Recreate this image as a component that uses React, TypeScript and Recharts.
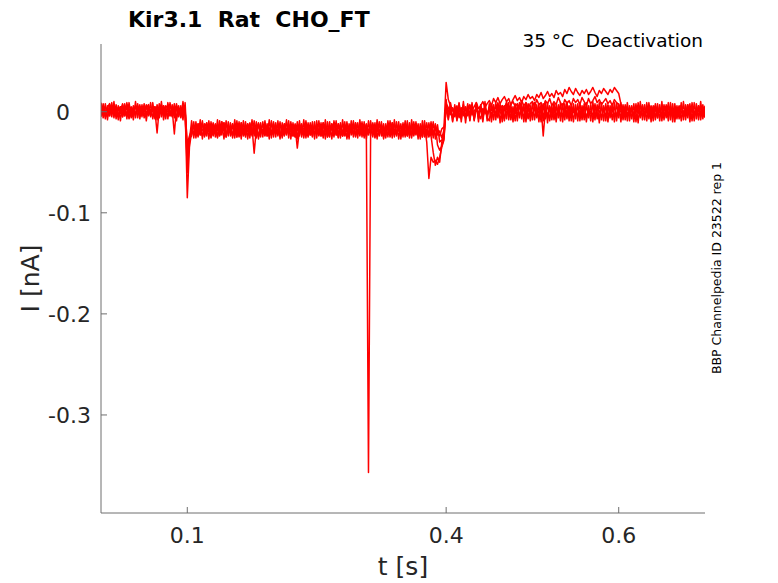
import { LineChart, Line, XAxis, YAxis } from 'recharts';

// sampling of the recorded sweeps
const SAMPLE_STEP = 0.0025; // s

const xTicks = [0.1, 0.4, 0.6];
const yTicks = [-0.3, -0.2, -0.1, 0];

// current sweeps in pA, one value per sample (0 .. 0.7 s)
const sweepA = [
  3, -2, 5, 0, -4, 6, 2, -3, 4, 1, -5, 3, 7, -1, 2, -4, 5, 0, -2, 4,
  1, 6, -3, 2, 5, -1, -4, 3, 7, 0, -2, 4, 1, -5, 2, 6, -1, 3, -3, 4,
  -85, -35, -20, -14, -22, -12, -19, -24, -15, -11, -20, -16, -23, -13, -18, -21, -10, -17, -25, -14,
  -19, -12, -22, -16, -24, -11, -18, -20, -13, -23, -15, -41, -17, -12, -21, -19, -14, -24, -16, -20,
  -12, -22, -17, -25, -14, -19, -11, -21, -16, -23, -13, -18, -20, -15, -24, -12, -19, -22, -16, -21,
  -14, -23, -18, -11, -20, -16, -25, -13, -19, -21, -12, -17, -24, -15, -20, -18, -13, -22, -16, -19,
  -23, -14, -20, -17, -357, -18, -12, -21, -16, -24, -13, -19, -22, -15, -20, -11, -18, -23, -16, -21,
  -13, -19, -24, -15, -20, -17, -12, -22, -18, -25, -14, -19, -21, -16, -23, -13, -20, -24, -17, -15,
  29, 12, 6, 2, -3, 4, -6, 1, -2, 5, -4, 0, 3, -7, 2, -1, 4, -5, 1, -3,
  2, -6, 4, -1, -4, 3, 0, -7, 5, -2, 1, -5, 3, -3, 6, -1, -4, 2, -6, 1,
  -2, 4, -5, 1, 3, -3, 0, -6, 5, -1, 2, -4, 4, -2, -5, 3, 0, -3, 6, -1,
  3, -4, 1, -2, 5, -6, 2, 0, -3, 4, -1, -5, 3, 1, -4, 6, -2, 0, 4, -3,
  1, -5, 3, -1, 5, -3, 2, -6, 4, 0, -2, 6, -4, 1, 3, -2, 5, -5, 2, -1,
  4, -3, 0, 6, -2, 3, -5, 2, 5, -1, 1, -4, 7, -2, 3, 0, -3, 6, -1, 2,
  3,
];

const sweepB = [
  -3, 4, 1, -5, 6, -1, 3, -4, 2, 5, -2, 0, 4, -6, 1, 3, -3, 6, 0, -2,
  5, -1, 2, -4, 4, 1, -21, 3, -2, 6, 0, -3, 5, 2, -4, 3, 1, -5, 4, 2,
  -60, -30, -16, -23, -13, -20, -17, -11, -24, -18, -14, -21, -12, -19, -25, -15, -20, -13, -22, -17,
  -21, -14, -18, -25, -12, -20, -16, -23, -19, -11, -22, -17, -14, -24, -18, -13, -21, -15, -20, -23,
  -16, -19, -13, -21, -24, -15, -20, -17, -12, -22, -18, -25, -14, -19, -16, -21, -13, -23, -18, -15,
  -20, -17, -24, -13, -19, -22, -15, -18, -11, -23, -20, -16, -14, -21, -25, -17, -19, -12, -22, -18,
  -15, -20, -24, -13, -19, -21, -16, -23, -18, -12, -20, -25, -14, -17, -22, -19, -13, -21, -16, -24,
  -18, -14, -22, -19, -16, -23, -12, -20, -17, -21, -15, -30, -66, -45, -50, -48, -52, -45, -35, -28,
  8, 4, -2, 3, -5, 1, 6, -3, 0, -6, 4, -1, 2, -4, 5, -2, -7, 3, 0, -4,
  4, -2, 1, -5, 3, 0, -4, 5, -1, 2, -6, 3, -2, 4, -3, 1, 6, -5, 2, -1,
  -4, 3, 1, -6, 5, -24, 2, -3, 4, -5, 0, 3, -1, 6, -4, 1, -2, 5, -3, 2,
  -1, 5, -3, 2, -5, 4, 0, -2, 6, -4, 3, 1, -6, 2, 5, -3, 0, 4, -2, -5,
  3, 0, -4, 5, -2, 1, 4, -5, 2, -1, 6, -3, 0, 3, -4, 5, -1, 2, -6, 4,
  -2, 3, 5, -4, 1, -1, 4, -3, 2, 6, -5, 0, 3, -2, 5, -4, 1, 4, -3, 0,
  -1,
];

const sweepC = [
  6, 1, -2, 4, 8, -1, 3, 5, -3, 2, 7, 0, -4, 5, 3, -1, 6, 2, -2, 4,
  0, 3, 7, -2, 1, 5, -3, 4, 2, -1, 6, 3, -4, 2, -22, 5, 0, 4, -1, 3,
  -45, -28, -22, -15, -19, -24, -13, -18, -21, -16, -12, -23, -17, -20, -14, -24, -18, -11, -21, -19,
  -16, -23, -13, -19, -21, -15, -24, -17, -12, -20, -18, -22, -14, -25, -16, -19, -13, -21, -17, -23,
  -19, -15, -22, -13, -18, -24, -16, -20, -14, -21, -25, -17, -12, -23, -19, -15, -20, -18, -24, -13,
  -22, -18, -14, -21, -16, -25, -19, -12, -23, -17, -15, -20, -24, -13, -18, -21, -16, -22, -11, -20,
  -17, -21, -13, -24, -18, -15, -22, -19, -12, -20, -16, -23, -18, -14, -25, -17, -21, -13, -19, -22,
  -14, -20, -17, -23, -13, -19, -22, -16, -24, -18, -15, -21, -19, -24, -40, -53, -45, -50, -30, -22,
  5, 1, -3, 4, -1, 6, -4, 2, 0, -5, 3, 7, 1, 5, 9, 3, 6, 10, 4, 8,
  11, 6, 13, 9, 14, 8, 12, 15, 10, 13, 7, 12, 16, 11, 14, 9, 15, 12, 17, 13,
  15, 11, 17, 14, 19, 13, 16, 20, 15, 18, 14, 21, 17, 19, 15, 22, 18, 24, 20, 17,
  23, 19, 16, 21, 18, 22, 17, 20, 24, 19, 15, 21, 18, 23, 20, 17, 22, 19, 24, 21,
  18, 8, 2, -3, 4, -1, 5, -4, 1, 6, -2, 3, -5, 2, 0, 4, -3, 5, -1, 2,
  -4, 1, 5, -2, 3, -5, 0, 4, -1, 6, -3, 2, -2, 5, 1, -4, 3, 0, 6, -2,
  2,
];

const sweepD = [
  -1, 3, -5, 2, 0, 5, -3, 1, 4, -2, 2, -4, 0, 3, -6, 4, -1, 1, 5, -3,
  2, -3, 4, 0, -5, 3, 1, -2, 5, -4, 2, 0, -3, 4, 1, -5, 3, -1, 2, 0,
  -32, -24, -18, -21, -14, -17, -23, -12, -19, -22, -16, -25, -13, -20, -17, -23, -15, -19, -12, -21,
  -18, -24, -15, -20, -13, -22, -17, -25, -14, -19, -21, -16, -23, -12, -20, -18, -24, -15, -19, -11,
  -21, -17, -14, -23, -19, -12, -22, -16, -20, -24, -15, -36, -18, -13, -21, -17, -25, -14, -20, -16,
  -19, -12, -21, -24, -15, -18, -22, -13, -20, -16, -25, -14, -19, -23, -12, -21, -17, -15, -24, -18,
  -20, -16, -23, -13, -21, -19, -14, -25, -17, -22, -15, -18, -24, -12, -20, -16, -23, -19, -14, -21,
  -17, -23, -15, -20, -24, -13, -19, -16, -22, -14, -21, -18, -25, -15, -20, -17, -23, -19, -26, -18,
  2, -3, 1, -6, 3, -2, 0, 4, -4, 2, -1, 5, -3, 1, 3, -2, 6, 0, 4, -1,
  3, 7, 1, 5, 8, 2, 6, 4, 9, 3, 7, 10, 5, 8, 4, 11, 6, 9, 3, 8,
  10, 5, 12, 7, 9, 4, 11, 8, 13, 6, 10, 7, 14, 9, 5, 12, 8, 11, 6, 13,
  9, 12, 7, 14, 10, 6, 13, 8, 11, 15, 9, 12, 7, 10, 13, 8, 11, 6, 12, 9,
  7, 2, -2, 4, -4, 1, 3, -3, 5, 0, -5, 2, 4, -1, 3, -4, 1, 6, -2, 0,
  3, -1, -4, 2, 5, -3, 1, -2, 4, 0, -5, 3, 1, -3, 6, -1, 2, -4, 4, 1,
  -2,
];

const sweepE = [
  9, -6, 8, -8, 7, -5, 10, -7, 6, -9, 8, -4, 9, -7, 5, -8, 10, -6, 7, -5,
  8, -9, 6, -5, 9, -7, 7, -6, 10, -8, 5, -7, 9, -4, 8, -9, 6, -6, 10, -5,
  -50, -28, -9, -26, -10, -25, -8, -27, -12, -24, -9, -26, -11, -25, -8, -23, -10, -27, -9, -24,
  -11, -26, -8, -25, -10, -27, -9, -23, -12, -26, -8, -24, -10, -27, -11, -25, -9, -24, -8, -26,
  -10, -25, -9, -27, -11, -23, -8, -26, -10, -24, -12, -27, -9, -25, -8, -26, -11, -23, -10, -27,
  -9, -24, -11, -26, -8, -25, -10, -27, -9, -23, -12, -26, -8, -24, -10, -27, -9, -25, -11, -26,
  -8, -25, -10, -27, -9, -24, -11, -26, -8, -23, -10, -27, -12, -25, -9, -26, -8, -24, -10, -27,
  -11, -25, -9, -26, -8, -24, -10, -27, -12, -25, -9, -26, -11, -24, -10, -27, -13, -30, -28, -24,
  12, -8, 9, -10, 7, -9, 8, -7, 10, -11, 6, -8, 9, -9, 8, -10, 7, -8, 10, -9,
  8, -10, 7, -8, 9, -11, 6, -9, 10, -8, 7, -10, 8, -9, 9, -7, 6, -10, 8, -9,
  9, -8, 7, -10, 8, -9, 10, -11, 6, -8, 9, -10, 7, -9, 8, -8, 10, -9, 6, -10,
  7, -9, 9, -8, 8, -10, 6, -9, 10, -8, 7, -11, 9, -9, 8, -10, 6, -8, 9, -9,
  8, -10, 7, -8, 9, -9, 6, -10, 8, -11, 10, -8, 7, -9, 9, -10, 6, -8, 8, -9,
  10, -8, 7, -9, 9, -10, 8, -7, 6, -9, 10, -8, 7, -10, 9, -9, 8, -8, 10, -7,
  6,
];

const sweepF = [
  -5, 8, -7, 6, -4, 9, -6, 7, -8, 5, -5, 8, -7, 9, -4, 6, -6, 8, -7, 7,
  -6, 7, -4, 9, -7, 5, -8, 8, -5, 6, -7, 9, -4, 7, -6, 8, -5, 6, -8, 9,
  -38, -26, -24, -10, -26, -12, -23, -9, -25, -11, -27, -10, -24, -12, -26, -9, -23, -11, -25, -10,
  -24, -12, -26, -9, -25, -11, -23, -10, -27, -12, -24, -9, -26, -11, -25, -10, -23, -12, -27, -9,
  -25, -11, -24, -10, -26, -12, -23, -9, -27, -11, -25, -10, -24, -12, -26, -9, -23, -11, -25, -10,
  -26, -9, -24, -11, -27, -10, -23, -12, -25, -9, -26, -11, -24, -10, -27, -12, -23, -9, -25, -11,
  -24, -10, -26, -12, -23, -9, -25, -11, -27, -10, -24, -12, -26, -9, -23, -11, -25, -10, -27, -12,
  -25, -9, -24, -11, -26, -10, -23, -12, -27, -9, -25, -11, -24, -10, -26, -12, -33, -38, -34, -26,
  6, -7, 8, -9, 5, -8, 9, -10, 7, -6, 8, -9, 6, -8, 9, -7, 5, -10, 8, -6,
  -9, 7, -8, 9, -6, 8, -10, 6, -7, 9, -8, 5, -9, 7, -6, 8, -10, 9, -7, 6,
  -8, 9, -6, 7, -10, 8, -7, 9, -9, 6, -8, 7, -6, 9, -10, 8, -7, 6, -9, 8,
  -7, 8, -9, 6, -8, 9, -6, 7, -10, 8, -7, 9, -8, 6, -9, 7, -6, 8, -10, 9,
  -6, 9, -8, 7, -9, 6, -7, 8, -10, 9, -6, 7, -8, 9, -7, 6, -9, 8, -6, 7,
  -9, 7, -6, 9, -8, 8, -10, 6, -7, 9, -8, 7, -6, 8, -9, 9, -7, 6, -8, 7,
  -6,
];

const sweeps = [sweepE, sweepF, sweepA, sweepB, sweepC, sweepD];

// pA -> nA, one row per sample
const data = sweepA.map((_, i) => {
  const row: Record<string, number> = { t: i * SAMPLE_STEP };
  sweeps.forEach((s, k) => {
    row['s' + k] = s[i] / 1000;
  });
  return row;
});

const font = 'DejaVu Sans';
const ink = '#262626';

const fmtY = (v: number) => (v === 0 ? '0\u2008\u2007' : v.toFixed(1));

export default function App() {
  return (
    <div style={{ position: 'absolute', left: 0, top: 0, width: 778, height: 583, background: '#fff' }}>
      <LineChart width={778} height={583} data={data} margin={{ top: 44, right: 73, bottom: 0, left: 0 }}>
        <XAxis
          type="number"
          dataKey="t"
          domain={[0, 0.7]}
          ticks={xTicks}
          allowDataOverflow
          height={70}
          tickSize={-6}
          tickMargin={20}
          stroke="#6e6e6e"
          tick={{ fontSize: 22, fill: ink, fontFamily: font }}
          label={{ value: 't [s]', position: 'insideBottom', offset: 8, fontSize: 25, fill: ink, fontFamily: font }}
        />
        <YAxis
          type="number"
          domain={[-0.397, 0.067]}
          ticks={yTicks}
          allowDataOverflow
          width={101}
          tickSize={-6}
          tickMargin={16}
          stroke="#6e6e6e"
          tickFormatter={fmtY}
          tick={{ fontSize: 22, fill: ink, fontFamily: font }}
          label={{
            value: 'I [nA]',
            angle: -90,
            position: 'insideLeft',
            offset: 30,
            fontSize: 25,
            fill: ink,
            fontFamily: font,
            style: { textAnchor: 'middle' },
          }}
        />
        {sweeps.map((_, k) => (
          <Line
            key={k}
            type="linear"
            dataKey={'s' + k}
            stroke="#ff0000"
            strokeWidth={1.5}
            strokeLinejoin="round"
            dot={false}
            isAnimationActive={false}
          />
        ))}
      </LineChart>
      <svg width={778} height={583} style={{ position: 'absolute', left: 0, top: 0, pointerEvents: 'none' }}>
        <text x={128} y={27} fontFamily={font} fontSize={22} fontWeight="bold" fill="#000">
          {'Kir3.1\u00a0\u00a0Rat\u00a0\u00a0CHO_FT'}
        </text>
        <text x={703} y={47} fontFamily={font} fontSize={18.5} textAnchor="end" fill="#000">
          {'35 \u00b0C\u00a0\u00a0Deactivation'}
        </text>
        <text
          x={721}
          y={268}
          fontFamily={font}
          fontSize={12.5}
          textAnchor="middle"
          fill="#000"
          transform="rotate(-90, 721, 268)"
        >
          BBP Channelpedia ID 23522 rep 1
        </text>
      </svg>
    </div>
  );
}
